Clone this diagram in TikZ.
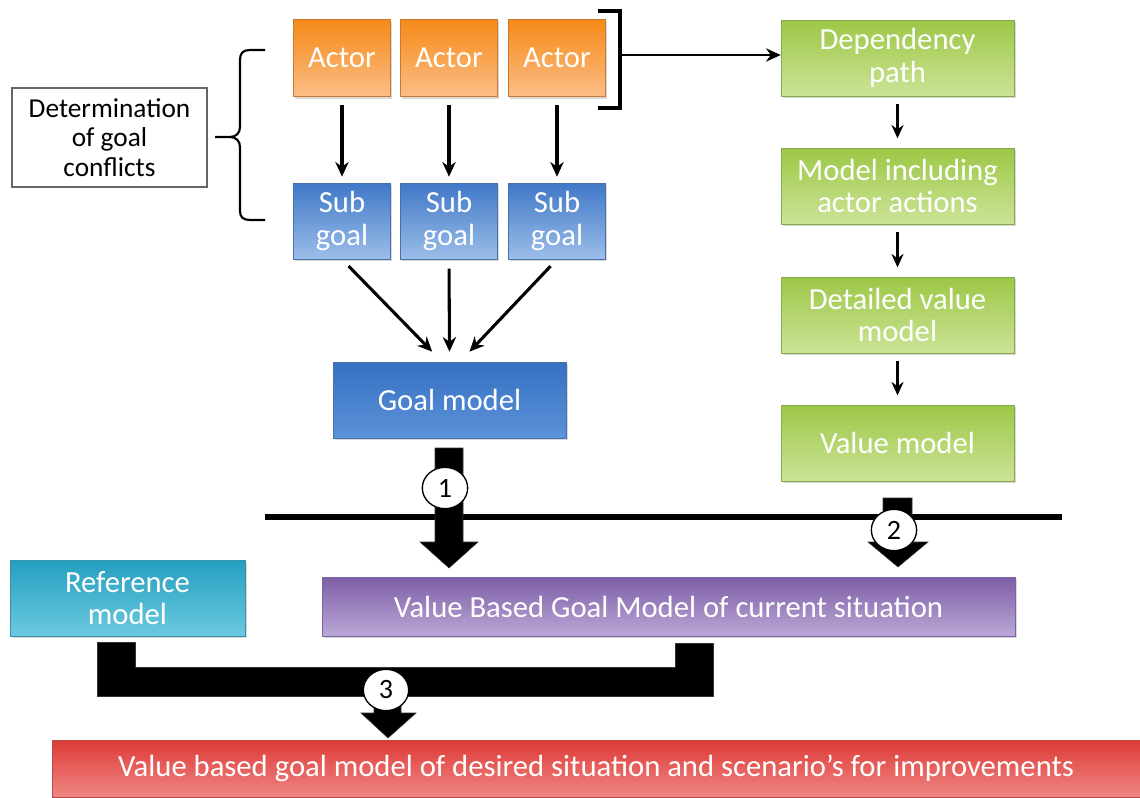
\documentclass[tikz,border=0pt]{standalone}
\usepackage{fontspec}
\setmainfont{Carlito}
\usetikzlibrary{shadows,shapes.geometric,arrows.meta}

\definecolor{orTop}{HTML}{F68A18}
\definecolor{orBot}{HTML}{FBBE86}
\definecolor{orLine}{HTML}{C87A35}
\definecolor{blTop}{HTML}{3F78C8}
\definecolor{blBot}{HTML}{9CBEE9}
\definecolor{blLine}{HTML}{4A70A8}
\definecolor{gmTop}{HTML}{3670C2}
\definecolor{gmBot}{HTML}{5B92D8}
\definecolor{grTop}{HTML}{9CC746}
\definecolor{grBot}{HTML}{CCE497}
\definecolor{grLine}{HTML}{86A850}
\definecolor{puTop}{HTML}{7D5EA6}
\definecolor{puBot}{HTML}{BBA8D8}
\definecolor{puLine}{HTML}{7A64A0}
\definecolor{cyTop}{HTML}{259FC0}
\definecolor{cyBot}{HTML}{6CC9DF}
\definecolor{cyLine}{HTML}{3C8FA8}
\definecolor{rdTop}{HTML}{DD3B38}
\definecolor{rdBot}{HTML}{F08683}
\definecolor{rdLine}{HTML}{B84A48}

\begin{document}
\begin{tikzpicture}[x=0.75pt,y=-0.75pt,
  box/.style={rectangle, draw=#1, line width=0.5pt, text=white, align=center,
    inner sep=1pt, font=\fontsize{23}{24.5}\selectfont,
    drop shadow={opacity=0.3, shadow xshift=1.2pt, shadow yshift=-1.5pt}},
  actorbox/.style={box=orLine, top color=orTop, bottom color=orBot,
    minimum width=72.75pt, minimum height=57.75pt},
  subbox/.style={box=blLine, top color=blTop, bottom color=blBot,
    minimum width=72.75pt, minimum height=57pt},
  greenbox/.style={box=grLine, top color=grTop, bottom color=grBot,
    minimum width=174.75pt, minimum height=57pt},
  flow/.style={-{Stealth[length=11pt,width=10pt]}, line width=2.3pt},
  thinflow/.style={-{Stealth[length=10pt,width=9pt]}, line width=2.1pt},
  blockarrow/.style={fill=black, draw=black!80, line width=0.4pt},
  stepno/.style={ellipse, draw=black, line width=1pt, fill=white,
    minimum width=34pt, minimum height=31pt, inner sep=0pt,
    font=\fontsize{21}{22}\selectfont}
]
\useasboundingbox (0,0) rectangle (1140,797);

% actors and their sub goals
\node[actorbox] (a1) at (342,58) {Actor};
\node[actorbox] (a2) at (449,58) {Actor};
\node[actorbox] (a3) at (557,58) {Actor};
\node[subbox] (s1) at (342,221) {Sub\\goal};
\node[subbox] (s2) at (449,221) {Sub\\goal};
\node[subbox] (s3) at (557,221) {Sub\\goal};
\node[box=blLine, top color=gmTop, bottom color=gmBot,
  minimum width=174.75pt, minimum height=57pt] (goal) at (449.5,400) {Goal model};

\foreach \i in {1,2,3}
  \draw[flow, shorten <=6pt, shorten >=4.5pt] (a\i.south) -- (s\i.north);
\draw[flow, shorten <=7pt] (s1.south) -- ([xshift=-13pt,yshift=7.5pt]goal.north);
\draw[flow, shorten <=7pt] (s2.south) -- ([yshift=7.5pt]goal.north);
\draw[flow, shorten <=7pt] (s3.south) -- ([xshift=15pt,yshift=7.5pt]goal.north);

% goal conflicts label and brace
\node[draw=black!60, line width=1pt, fill=white, align=center,
  minimum width=146.25pt, minimum height=74.25pt, inner sep=1pt,
  font=\fontsize{20.5}{22}\selectfont] (det) at (109.5,137.5)
  {Determination\\of goal\\conflicts};
\coordinate (bt) at (215,137);
\draw[line width=1.6pt] (bt) -- (230,137)
  (265,50) -- (250,50) .. controls (243,50) and (240,53) .. (240,60)
  -- (240,127) .. controls (240,133) and (236,137) .. (230,137)
  .. controls (236,137) and (240,141) .. (240,147)
  -- (240,211) .. controls (240,217) and (243,220) .. (250,220) -- (265,220);

% bracket around the actors
\draw[line width=2.4pt] (598,11) -- (620,11) -- (620,108) -- (598,108);
\coordinate (br) at (620,55);

% value modelling track
\node[greenbox] (dep) at (897.5,58) {Dependency\\path};
\node[greenbox] (mia) at (897.5,186) {Model including\\actor actions};
\node[greenbox] (dvm) at (897.5,315) {Detailed value\\model};
\node[greenbox] (vm) at (897.5,443) {Value model};
\draw[flow, line width=1.7pt] (br) -- (br -| dep.west);
\draw[thinflow, shorten <=6pt, shorten >=7pt] (dep.south) -- (mia.north);
\draw[thinflow, shorten <=6pt, shorten >=7pt] (mia.south) -- (dvm.north);
\draw[thinflow, shorten <=6pt, shorten >=7pt] (dvm.south) -- (vm.north);

% separating line and merge arrows
\draw[line width=5.2pt] (265,517) -- (1062,517);
\draw[blockarrow] (435,448) -- (463,448) -- (463,542) -- (478,542) -- (449,568)
  -- (420,542) -- (435,542) -- cycle;
\draw[blockarrow] (883,498) -- (912,498) -- (912,542) -- (928,542) -- (898,567)
  -- (868,542) -- (883,542) -- cycle;
\node[stepno] (c1) at (445,488) {1};
\node[stepno] (c2) at (894,530) {2};

% lower row
\node[box=puLine, top color=puTop, bottom color=puBot,
  minimum width=519.75pt, minimum height=44.25pt] (vbgm) at (668.5,606.5)
  {Value Based Goal Model of current situation};
\node[box=cyLine, top color=cyTop, bottom color=cyBot,
  minimum width=176.25pt, minimum height=57pt] (ref) at (127.5,598)
  {Reference\\model};
\draw[blockarrow] (97,642) -- (135,642) -- (135,667) -- (675,667) -- (675,643)
  -- (713,643) -- (713,696) -- (97,696) -- cycle;
\draw[blockarrow] (374,695) -- (401,695) -- (401,713) -- (416,713) -- (388,738)
  -- (361,713) -- (374,713) -- cycle;
\node[stepno] (c3) at (386,690) {3};
\node[box=rdLine, top color=rdTop, bottom color=rdBot,
  minimum width=816pt, minimum height=42.75pt] (des) at (596,768.5)
  {Value based goal model of desired situation and scenario’s for improvements};
\end{tikzpicture}
\end{document}
